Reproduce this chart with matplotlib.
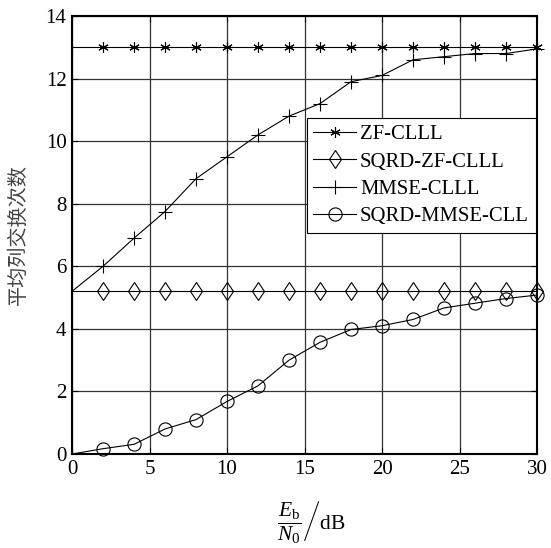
import numpy as np
import matplotlib.pyplot as plt

plt.rcParams['font.family'] = ['Liberation Serif', 'Noto Sans CJK SC']
plt.rcParams['mathtext.fontset'] = 'custom'
plt.rcParams['mathtext.rm'] = 'Liberation Serif'
plt.rcParams['mathtext.it'] = 'Liberation Serif:italic'

# 信噪比 (dB)
snr = [0, 2, 4, 6, 8, 10, 12, 14, 16, 18, 20, 22, 24, 26, 28, 30]

# 各算法的平均列交换次数
zf_clll = [13, 13, 13, 13, 13, 13, 13, 13, 13, 13, 13, 13, 13, 13, 13, 13]
sqrd_zf_clll = [5.2, 5.2, 5.2, 5.2, 5.2, 5.2, 5.2, 5.2, 5.2, 5.2, 5.2, 5.2, 5.2, 5.2, 5.2, 5.2]
mmse_clll = [5.2, 6.0, 6.9, 7.75, 8.8, 9.5, 10.2, 10.8, 11.2, 11.9, 12.1, 12.6, 12.7, 12.8, 12.8, 12.95]
sqrd_mmse_cll = [0.0, 0.17, 0.31, 0.8, 1.1, 1.68, 2.18, 3.0, 3.57, 3.98, 4.1, 4.3, 4.67, 4.82, 4.97, 5.08]

labels = ['ZF-CLLL', 'SQRD-ZF-CLLL', 'MMSE-CLLL', 'SQRD-MMSE-CLL']

fig = plt.figure(figsize=(5.51, 5.48), dpi=100)
ax = fig.add_axes([0.1307, 0.1715, 0.8439, 0.7993])

kw = dict(color='k', lw=0.8, markevery=slice(1, None), clip_on=False)
ax.plot(snr, zf_clll, marker=(6, 2, 0), ms=7.5, mew=0.8, label=labels[0], **kw)
ax.plot(snr, sqrd_zf_clll, marker='d', ms=9.5, mew=0.8, mfc='none', label=labels[1], **kw)
ax.plot(snr, mmse_clll, marker='+', ms=9.5, mew=0.8, label=labels[2], **kw)
ax.plot(snr, sqrd_mmse_cll, marker='o', ms=9.5, mew=0.8, mfc='none', label=labels[3], **kw)

ax.set_xlim(0, 30)
ax.set_ylim(0, 14)
ax.set_xticks(np.arange(0, 31, 5))
ax.set_yticks(np.arange(0, 15, 2))
ax.grid(True, color='#333333', lw=0.9)
ax.tick_params(direction='in', top=True, right=True, labelsize=15, length=4, pad=4)
for s in ax.spines.values():
    s.set_linewidth(1.5)

ax.set_ylabel('平均列交换次数', fontsize=14.5, color='#444444',
              family=['Noto Sans CJK SC'], labelpad=12)
fig.text(0.565, 0.046, r'$\left.\dfrac{E_{\mathrm{b}}}{N_0}\right/\mathrm{dB}$',
         fontsize=15.5, ha='center', va='center')

leg = ax.legend(loc='upper left', bbox_to_anchor=(0.505, 0.767), fontsize=14.9,
                frameon=True, fancybox=False, edgecolor='k', framealpha=1,
                handlelength=2.05, handletextpad=0.2, borderpad=0.32,
                labelspacing=0.38, borderaxespad=0)
leg.get_frame().set_linewidth(0.8)

fig.savefig('out.png', dpi=100)
